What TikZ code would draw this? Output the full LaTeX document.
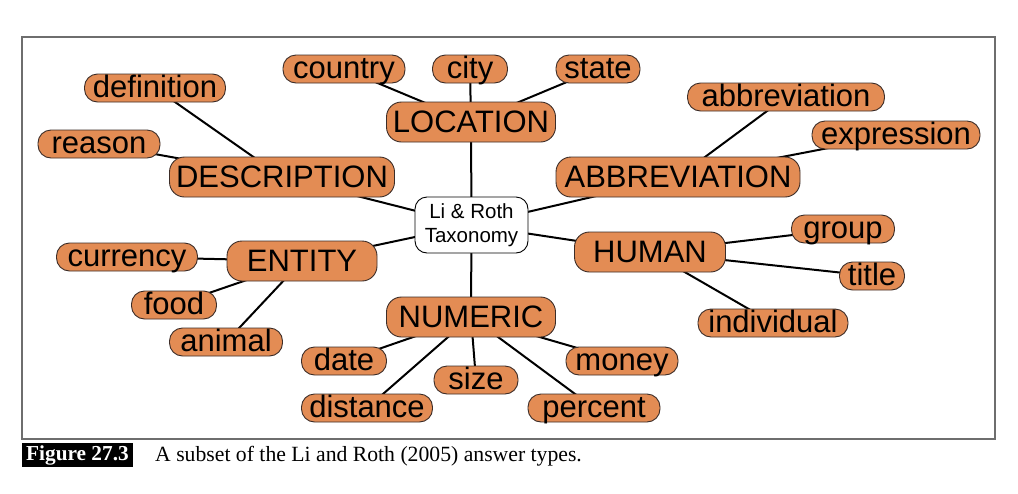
\documentclass[tikz,border=0pt]{standalone}
\usepackage{fontspec}
\setmainfont{Liberation Serif}
\newfontfamily\hv{Liberation Sans}
\usetikzlibrary{backgrounds}
\definecolor{boxorange}{RGB}{227,140,84}
\definecolor{boxborder}{RGB}{60,45,40}
\definecolor{framegray}{RGB}{110,110,110}
\tikzset{
  leaf/.style={draw=boxborder, line width=0.9pt, fill=boxorange, rounded corners=13pt,
    minimum height=28pt, inner xsep=0pt, inner ysep=0pt, text height=22pt, text depth=4pt,
    font=\hv\fontsize{31}{31}\selectfont},
  cat/.style={draw=boxborder, line width=0.9pt, fill=boxorange, rounded corners=15pt,
    minimum height=40pt, inner xsep=0pt, inner ysep=0pt, text height=22pt, text depth=2pt,
    font=\hv\fontsize{31}{31}\selectfont},
  root/.style={draw=black, line width=0.9pt, fill=white, rounded corners=12pt,
    minimum width=113pt, minimum height=56pt, inner sep=0pt, align=center,
    font=\hv\fontsize{20.5}{24}\selectfont},
  link/.style={line width=2pt, black}
}
\begin{document}
\begin{tikzpicture}[x=1pt,y=-1pt]
\useasboundingbox (0,0) rectangle (1018,493);
\draw[framegray, line width=1.5pt] (22,37) rectangle (995,439);

% root
\node[root] (root) at (471.5,225) {Li \& Roth\\Taxonomy};

% categories
\node[cat, minimum width=169pt] (LOC) at (471,122) {LOCATION};
\node[cat, minimum width=225pt] (DESC) at (282,177) {DESCRIPTION};
\node[cat, minimum width=244pt] (ABBR) at (678,177) {ABBREVIATION};
\node[cat, minimum width=150pt] (ENT) at (302,261) {ENTITY};
\node[cat, minimum width=151pt] (HUM) at (650,252) {HUMAN};
\node[cat, minimum width=169pt] (NUM) at (471,317) {NUMERIC};

% leaves
\node[leaf, minimum width=122pt] (country) at (344,69) {country};
\node[leaf, minimum width=75pt] (city) at (470,69) {city};
\node[leaf, minimum width=84pt] (state) at (598,69) {state};
\node[leaf, minimum width=141pt] (definition) at (155,88) {definition};
\node[leaf, minimum width=122pt] (reason) at (99,144) {reason};
\node[leaf, minimum width=197pt] (abbreviation) at (786,97) {abbreviation};
\node[leaf, minimum width=168pt] (expression) at (896,135) {expression};
\node[leaf, minimum width=141pt] (currency) at (127,257) {currency};
\node[leaf, minimum width=85pt] (food) at (174,305) {food};
\node[leaf, minimum width=113pt] (animal) at (226,342) {animal};
\node[leaf, minimum width=85pt] (date) at (344,361) {date};
\node[leaf, minimum width=131pt] (distance) at (367,408) {distance};
\node[leaf, minimum width=84pt] (sizenode) at (476,380) {size};
\node[leaf, minimum width=112pt] (money) at (622,361) {money};
\node[leaf, minimum width=132pt] (percent) at (594,408) {percent};
\node[leaf, minimum width=103pt] (group) at (843,229) {group};
\node[leaf, minimum width=65pt] (titlenode) at (872,276) {title};
\node[leaf, minimum width=150pt] (individual) at (773,323) {individual};

\begin{pgfonlayer}{background}
\foreach \a/\b in {root/LOC, root/DESC, root/ABBR, root/ENT, root/HUM, root/NUM,
  LOC/country, LOC/city, LOC/state,
  DESC/definition, DESC/reason,
  ABBR/abbreviation, ABBR/expression,
  ENT/currency, ENT/food, ENT/animal,
  NUM/date, NUM/distance, NUM/sizenode, NUM/money, NUM/percent,
  HUM/group, HUM/titlenode, HUM/individual}
  \draw[link] (\a.center) -- (\b.center);
\end{pgfonlayer}

% caption
\node[fill=black, text=white, minimum width=111pt, minimum height=24pt, inner sep=0pt,
  font=\bfseries\fontsize{21.3}{21.3}\selectfont] (figlabel) at (77.5,455) {Figure 27.3};
\node[anchor=base west, inner sep=0pt, font=\fontsize{21.7}{21.7}\selectfont] (caption) at (155,461)
  {A subset of the Li and Roth (2005) answer types.};
\end{tikzpicture}
\end{document}
